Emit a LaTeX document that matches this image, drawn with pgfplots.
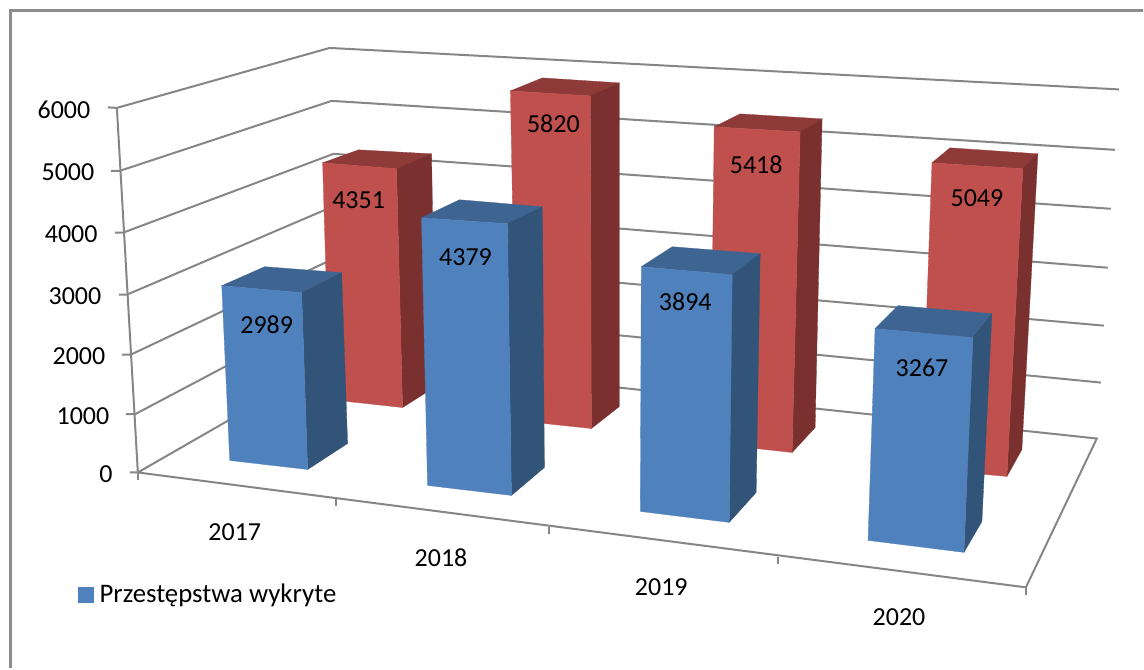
\documentclass[border=0pt]{standalone}
\usepackage{fontspec}
\setmainfont{Carlito}
\usepackage{pgfplots}
\pgfplotsset{compat=1.18}
\definecolor{bluef}{RGB}{79,129,189}
\definecolor{blues}{RGB}{50,84,121}
\definecolor{bluet}{RGB}{62,100,145}
\definecolor{redf}{RGB}{192,80,77}
\definecolor{reds}{RGB}{122,48,47}
\definecolor{redt}{RGB}{142,58,56}
\definecolor{axgray}{RGB}{134,134,134}
\definecolor{framegray}{RGB}{140,140,140}
\newcommand{\face}[2]{\addplot[fill=#1,draw=#1,line width=0.15pt,forget plot] coordinates {#2} --cycle;}
\newcommand{\gl}[1]{\addplot[axgray,line width=1pt,no markers,forget plot] coordinates {#1};}
\newcommand{\lab}[3]{\node[font=\fontsize{13}{13}\selectfont,text=black,inner sep=0pt,anchor=center,yshift=-0.3pt] at (axis cs:#1,#2) {#3};}
\begin{document}
\begin{tikzpicture}
\begin{axis}[
  scale only axis, width=572pt, height=334.5pt,
  xmin=0, xmax=1144, ymin=0, ymax=669, y dir=reverse,
  axis line style={draw=none}, ticks=none, clip=false,
  legend style={at={(axis cs:78,595.5)},anchor=west,draw=none,fill=none,inner sep=0pt,
    font=\fontsize{13.4}{13.4}\selectfont,legend cell align=left,
    nodes={inner sep=0pt,outer sep=0pt}},
  legend image code/.code={\fill[bluef] (0pt,-3.75pt) rectangle (7.5pt,3.75pt);},
]
% frame
\addplot[framegray,line width=1.25pt,no markers,forget plot] coordinates {(10.5,669) (10.5,10.5) (1144,10.5)};
% walls: gridlines, 6000 down to 0
\gl{(108,107.5) (117,108) (330,48) (1120,89.5)}
\gl{(111,171) (120,171) (332,101) (1116,150)}
\gl{(115,233) (123,233) (334,154) (1112,209)}
\gl{(119,295) (127,295) (335,206) (1109,268)}
\gl{(122,355) (131,355) (336,258) (1105,326)}
\gl{(126,414.5) (135.5,414.5) (337,308) (1102,383)}
\gl{(130,473) (138,473) (338,358) (1098,439) (1027,588) (138,473)}
% value axis line
\gl{(117,108) (138,473)}
% category ticks
\gl{(138,473) (138,481)}
\gl{(336.5,500) (336.5,507)}
\gl{(550,528) (550,535)}
\gl{(779,558) (779,565)}
\gl{(1027,588) (1027,596)}
% red: 2017
\face{redt}{(323,163) (397,169) (432,154) (359,150)}
\face{reds}{(397,169) (432,154) (436,387) (403,408)}
\face{redf}{(323,163) (397,169) (403,408) (330,400)}
% red: 2018
\face{redt}{(511,91) (591,96) (620,83) (543,78)}
\face{reds}{(591,96) (620,83) (620,407) (592,429)}
\face{redf}{(511,91) (591,96) (592,429) (517,421)}
% red: 2019
\face{redt}{(715,127) (801,132) (823,119) (741,114)}
\face{reds}{(801,132) (823,119) (816,428) (793,453)}
\face{redf}{(715,127) (801,132) (793,453) (711,444)}
% red: 2020
\face{redt}{(933,163) (1024,169) (1039,154) (951,148)}
\face{reds}{(1024,169) (1039,154) (1023,450) (1008,477)}
\face{redf}{(933,163) (1024,169) (1008,477) (922,469)}
% blue: 2017
\face{bluet}{(222,286) (302,293) (342,273) (265,267)}
\face{blues}{(302,293) (342,273) (348,444) (308,470)}
\addplot[fill=bluef,draw=bluef,line width=0.15pt] coordinates {(222,286) (302,293) (308,470) (230,461)} --cycle;
\addlegendentry{\hspace*{3pt}Przestępstwa wykryte}
% blue: 2018
\face{bluet}{(422,218) (508,224) (543,207) (460,200)}
\face{blues}{(508,224) (543,207) (545,468) (512,496)}
\face{bluef}{(422,218) (508,224) (512,496) (428,486)}
% blue: 2019
\face{bluet}{(642,267) (733,275) (761,254) (673,247)}
\face{blues}{(733,275) (761,254) (757,493) (730,523)}
\face{bluef}{(642,267) (733,275) (730,523) (641,512)}
% blue: 2020
\face{bluet}{(876,329) (974,338) (993,314) (899,306)}
\face{blues}{(974,338) (993,314) (983,522) (965,553)}
\face{bluef}{(876,329) (974,338) (965,553) (869,541)}
% value axis labels
\lab{64}{109}{6000}
\lab{68}{172}{5000}
\lab{71.3}{234}{4000}
\lab{75}{296}{3000}
\lab{79}{356}{2000}
\lab{83}{416}{1000}
\lab{106}{474}{0}
% category labels
\lab{235}{532}{2017}
\lab{441.5}{558}{2018}
\lab{662}{587}{2019}
\lab{900}{617}{2020}
% data labels
\lab{267}{324}{2989}
\lab{359}{200}{4351}
\lab{466}{257}{4379}
\lab{554}{123}{5820}
\lab{686}{301}{3894}
\lab{757}{164}{5418}
\lab{923}{368}{3267}
\lab{978}{198}{5049}
\end{axis}
\end{tikzpicture}
\end{document}
